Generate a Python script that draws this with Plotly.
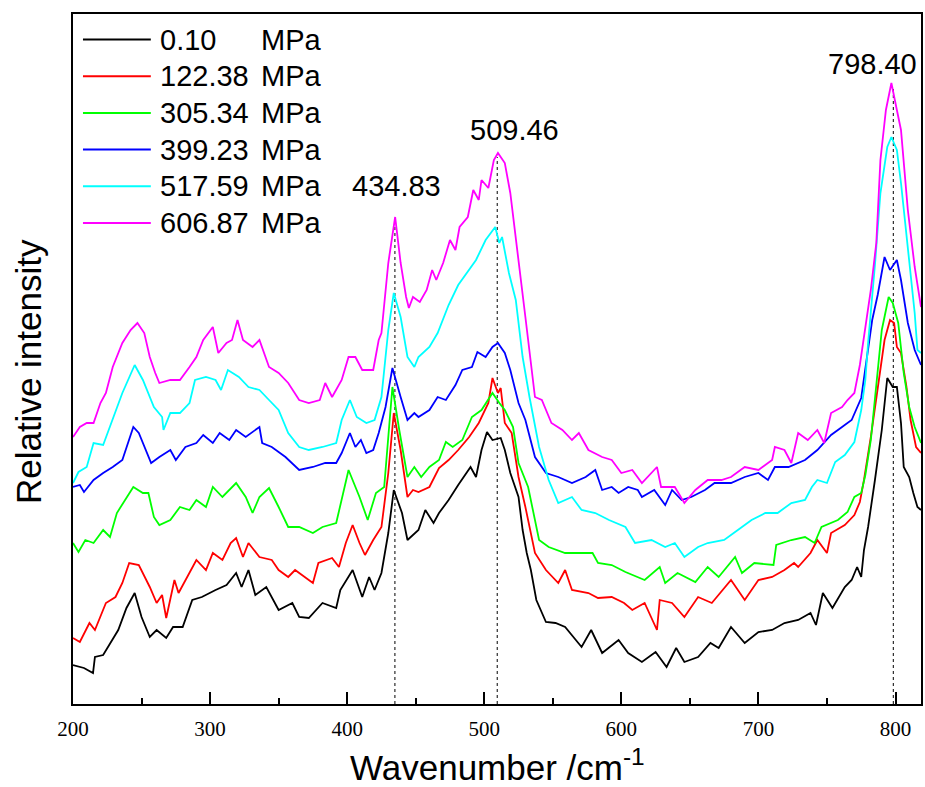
import plotly.graph_objects as go

# ---------------- data ----------------
labels_num = ["0.10", "122.38", "305.34", "399.23", "517.59", "606.87"]
unit = "MPa"
colors = ["#000000", "#FF0000", "#00FF00", "#0000FF", "#00FFFF", "#FF00FF"]

wn_0_10 = [200, 208, 214.6, 216, 222, 227, 233, 239, 245, 250, 256, 261, 268, 273, 280, 287, 294, 304, 312, 319,
           323, 328, 333, 341, 350, 360, 365, 372, 382, 392, 395, 404, 411, 416, 420, 425, 430, 434, 440, 444,
           452, 457, 463, 467, 474, 481, 490, 494, 498, 502, 506, 512, 515, 519, 525, 528, 531, 534, 538, 545,
           552, 559, 564, 571, 578, 586, 598, 605, 615, 625, 633, 640, 646, 656, 665, 671, 680, 690, 700, 710,
           719, 729, 738, 742, 747, 754, 763, 768, 772, 775, 777, 780, 785, 790, 794, 798, 801, 804, 806, 810,
           813, 816, 818.6]
int_0_10 = [39, 36, 31, 47, 49, 61, 74, 96, 111, 87, 67, 74, 66, 77, 77, 104, 107, 114, 119, 131,
            117, 134, 109, 117, 94, 101, 87, 86, 101, 96, 114, 134, 107, 127, 114, 131, 171, 214, 191, 164,
            174, 194, 181, 191, 204, 219, 237, 227, 254, 272, 264, 266, 254, 231, 207, 174, 151, 134, 104, 82,
            81, 77, 69, 57, 74, 51, 64, 51, 42, 52, 37, 56, 42, 47, 61, 56, 77, 61, 72, 74,
            81, 84, 91, 79, 111, 96, 117, 124, 137, 127, 154, 177, 224, 274, 326, 317, 317, 281, 237, 227,
            211, 197, 194]

wn_122 = [200, 205, 212, 216, 224, 231, 236, 241, 248, 256, 261, 265, 268, 274, 277, 282, 290, 297, 302, 309,
          315, 319, 324, 328, 336, 345, 350, 357, 362, 375, 379, 389, 394, 399, 404, 409, 413, 419, 425, 430,
          434, 439, 444, 448, 452, 460, 467, 474, 481, 489, 496, 503, 506, 510, 512, 515, 520, 525, 530, 537,
          545, 554, 559, 564, 576, 583, 593, 602, 608, 617, 626, 628, 637, 646, 656, 666, 680, 690, 700, 710,
          719, 726, 729, 738, 743, 750, 753, 763, 770, 774, 777, 782, 787, 792, 796, 799, 801, 804, 808, 811,
          815, 818.6]
int_122 = [66, 62, 81, 74, 101, 107, 121, 141, 139, 117, 101, 109, 86, 124, 111, 124, 144, 134, 151, 144,
           161, 166, 147, 161, 147, 144, 134, 127, 134, 121, 141, 146, 137, 161, 179, 161, 149, 164, 177, 231,
           291, 254, 207, 214, 212, 217, 236, 244, 254, 267, 281, 301, 326, 311, 316, 281, 271, 227, 197, 151,
           134, 121, 134, 114, 111, 106, 107, 101, 94, 101, 74, 104, 101, 87, 107, 101, 124, 104, 124, 127,
           134, 141, 137, 151, 164, 151, 171, 179, 189, 202, 224, 267, 314, 364, 384, 381, 357, 351, 317, 284,
           257, 251]

wn_305 = [200, 204, 209, 215, 222, 227, 232, 238, 244, 251, 255, 259, 263, 271, 278, 285, 290, 297, 302, 309,
          319, 326, 331, 336, 343, 350, 357, 365, 375, 382, 392, 401, 409, 415, 421, 427, 430, 433, 438, 444,
          449, 454, 460, 467, 472, 477, 484, 491, 498, 506, 511, 515, 521, 525, 532, 540, 547, 559, 569, 579,
          583, 593, 603, 617, 628, 632, 641, 654, 663, 671, 683, 688, 697, 711, 713, 724, 734, 741, 746, 758,
          765, 770, 775, 778, 782, 785, 790, 795, 798, 802, 806, 810, 814, 818.6]
int_305 = [161, 152, 164, 161, 174, 167, 191, 204, 217, 211, 211, 187, 179, 184, 197, 194, 204, 197, 217, 207,
           221, 207, 191, 207, 216, 197, 177, 177, 171, 177, 181, 234, 207, 184, 211, 217, 264, 317, 274, 227,
           237, 227, 237, 244, 262, 257, 264, 287, 294, 311, 301, 294, 277, 241, 217, 164, 157, 151, 151, 151,
           141, 139, 132, 124, 137, 121, 131, 122, 137, 127, 147, 131, 141, 139, 159, 164, 167, 161, 177, 184,
           192, 207, 211, 229, 264, 304, 374, 407, 401, 381, 331, 297, 277, 261]

wn_399 = [200, 205, 208, 215, 222, 229, 236, 244, 248, 252, 257, 263, 271, 275, 282, 290, 295, 302, 307, 314,
          319, 326, 336, 338, 345, 355, 365, 375, 384, 392, 396, 402, 406, 410, 414, 419, 423, 428, 433, 439,
          444, 449, 452, 460, 466, 472, 479, 484, 491, 495, 501, 506, 510, 515, 519, 525, 530, 537, 545, 554,
          564, 574, 581, 586, 593, 598, 605, 612, 615, 624, 632, 637, 644, 651, 661, 668, 680, 690, 700, 707,
          712, 722, 734, 743, 753, 761, 768, 775, 780, 783, 787, 792, 796, 801, 804, 809, 814, 818.6]
int_399 = [217, 219, 212, 224, 231, 237, 244, 277, 271, 257, 241, 247, 254, 244, 257, 261, 269, 261, 271, 264,
           274, 267, 277, 261, 257, 247, 234, 237, 241, 241, 251, 271, 257, 264, 251, 254, 271, 297, 336, 307,
           284, 291, 287, 294, 307, 304, 319, 334, 337, 352, 347, 357, 361, 351, 334, 301, 284, 247, 231, 227,
           221, 227, 234, 214, 217, 211, 217, 214, 207, 214, 199, 214, 204, 207, 214, 221, 221, 227, 231, 224,
           237, 237, 244, 254, 269, 277, 284, 306, 357, 384, 409, 447, 434, 444, 424, 381, 354, 339]

wn_517 = [200, 204, 210, 215, 222, 229, 236, 245, 251, 259, 265, 266, 271, 278, 285, 289, 297, 304, 308, 313,
          321, 328, 336, 343, 350, 357, 365, 372, 382, 392, 396, 402, 407, 414, 420, 425, 430, 434, 439, 444,
          449, 452, 460, 466, 474, 481, 489, 494, 501, 508, 511, 513, 518, 523, 528, 533, 540, 547, 554, 564,
          571, 581, 591, 603, 610, 622, 632, 639, 646, 656, 663, 675, 685, 695, 705, 714, 724, 734, 739, 743,
          750, 756, 763, 770, 775, 778, 780, 785, 789, 794, 797, 801, 804, 809, 814, 816, 818.6]
int_517 = [221, 232, 237, 261, 259, 284, 311, 339, 324, 297, 287, 274, 291, 291, 301, 324, 327, 324, 314, 334,
           327, 317, 314, 304, 294, 271, 257, 254, 257, 261, 284, 304, 287, 281, 284, 307, 374, 411, 387, 347,
           337, 347, 357, 371, 399, 419, 434, 444, 464, 477, 461, 467, 431, 404, 347, 307, 257, 224, 201, 207,
           194, 191, 184, 177, 161, 164, 157, 161, 147, 157, 161, 164, 174, 184, 191, 191, 201, 204, 217, 224,
           221, 242, 249, 262, 294, 324, 361, 439, 511, 557, 567, 554, 521, 457, 391, 354, 351]

wn_606 = [200, 205, 210, 215, 220, 224, 229, 236, 242, 247, 252, 256, 260, 263, 271, 278, 285, 290, 295, 302,
          306, 312, 316, 320, 324, 331, 336, 343, 350, 357, 365, 372, 380, 384, 389, 396, 401, 406, 411, 419,
          423, 425, 430, 435, 439, 443, 445, 448, 453, 458, 462, 465, 470, 475, 479, 482, 488, 492, 496, 498,
          503, 507, 510, 515, 519, 524, 530, 537, 542, 549, 557, 564, 569, 576, 586, 593, 600, 608, 615, 626,
          629, 639, 646, 654, 663, 673, 680, 690, 700, 710, 712, 719, 724, 729, 736, 743, 748, 753, 761, 765,
          770, 774, 777, 782, 786, 789, 793, 797, 801, 804, 809, 814, 818.6]
int_606 = [267, 277, 281, 281, 301, 311, 337, 361, 374, 381, 371, 347, 331, 321, 324, 324, 337, 347, 364, 377,
           351, 361, 364, 384, 364, 357, 364, 337, 331, 321, 304, 301, 304, 321, 307, 324, 347, 347, 334, 334,
           364, 371, 441, 487, 441, 407, 396, 407, 402, 414, 434, 424, 441, 464, 454, 477, 487, 514, 504, 524,
           516, 544, 551, 541, 511, 457, 387, 307, 304, 281, 274, 264, 271, 254, 247, 244, 231, 234, 221, 237,
           217, 217, 201, 214, 224, 224, 227, 237, 234, 244, 257, 254, 241, 271, 264, 274, 261, 291, 297, 304,
           311, 339, 369, 414, 461, 544, 594, 621, 594, 574, 494, 437, 397]

series_x = [wn_0_10, wn_122, wn_305, wn_399, wn_517, wn_606]
series_y = [int_0_10, int_122, int_305, int_399, int_517, int_606]

peak_pos = [434.83, 509.46, 798.40]
peak_top = [481, 547, 617]
peak_label_x = [436, 522, 783]
peak_label_y = [518, 574, 640]

x_ticks = [200, 300, 400, 500, 600, 700, 800]

# ---------------- figure ----------------
W, H = 925, 787
L, R, T, B = 73, 2, 14, 83
pw, ph = W - L - R, H - T - B
FONT = "Liberation Sans, Arial, sans-serif"


def px(x):
    return (x - L) / pw


def py(y):
    return (H - B - y) / ph


fig = go.Figure()
for xs, ys, c, n in zip(series_x, series_y, colors, labels_num):
    fig.add_trace(go.Scatter(x=xs, y=ys, mode="lines", name=f"{n} {unit}",
                             line=dict(color=c, width=1.8), showlegend=False))

shapes = []
for p, top in zip(peak_pos, peak_top):
    shapes.append(dict(type="line", xref="x", yref="y", x0=p, x1=p, y0=0, y1=top,
                       line=dict(color="black", width=1, dash="dot"), layer="below"))

annotations = []
for p, lx, ly in zip(peak_pos, peak_label_x, peak_label_y):
    annotations.append(dict(x=lx, y=ly, xref="x", yref="y", text=f"{p:.2f}", showarrow=False,
                            font=dict(family=FONT, size=29, color="black"),
                            xanchor="center", yanchor="middle"))

# legend drawn by hand (long line samples, aligned unit column)
leg_y0, leg_dy = 39.5, 36.7
for i, (n, c) in enumerate(zip(labels_num, colors)):
    yy = leg_y0 + i * leg_dy
    shapes.append(dict(type="line", xref="paper", yref="paper", x0=px(83), x1=px(151),
                       y0=py(yy), y1=py(yy), line=dict(color=c, width=2)))
    annotations.append(dict(x=px(158), y=py(yy), xref="paper", yref="paper", text=n,
                            showarrow=False, xanchor="left", yanchor="middle",
                            font=dict(family=FONT, size=29, color="black")))
    annotations.append(dict(x=px(259), y=py(yy), xref="paper", yref="paper", text=unit,
                            showarrow=False, xanchor="left", yanchor="middle",
                            font=dict(family=FONT, size=29, color="black")))

# axis titles
annotations.append(dict(x=px(498), y=py(765), xref="paper", yref="paper",
                        text="Wavenumber /cm<sup>-1</sup>", showarrow=False,
                        xanchor="center", yanchor="middle",
                        font=dict(family=FONT, size=35, color="black")))
annotations.append(dict(x=px(28), y=py(372), xref="paper", yref="paper",
                        text="Relative intensity", showarrow=False, textangle=-90,
                        xanchor="center", yanchor="middle",
                        font=dict(family=FONT, size=35, color="black")))

fig.update_layout(
    width=W, height=H,
    margin=dict(l=L, r=R, t=T, b=B),
    paper_bgcolor="white", plot_bgcolor="white",
    shapes=shapes, annotations=annotations,
    showlegend=False,
    xaxis=dict(range=[200, 818.6], tickvals=x_ticks, ticktext=[str(v) for v in x_ticks],
               ticks="inside", ticklen=12, tickwidth=2, tickcolor="black",
               minor=dict(dtick=50, tick0=250, ticks="inside", ticklen=6, tickwidth=2, tickcolor="black"),
               showline=True, linecolor="black", linewidth=2, mirror=True,
               showgrid=False, zeroline=False,
               tickfont=dict(family="Liberation Serif, Times New Roman, serif", size=21, color="black"),
               ticklabelstandoff=5),
    yaxis=dict(range=[0, 690], showticklabels=False, ticks="",
               showline=True, linecolor="black", linewidth=2, mirror=True,
               showgrid=False, zeroline=False),
)

fig.write_html("out.html", config={"displayModeBar": False},
               post_script="document.body.style.margin='0';")
